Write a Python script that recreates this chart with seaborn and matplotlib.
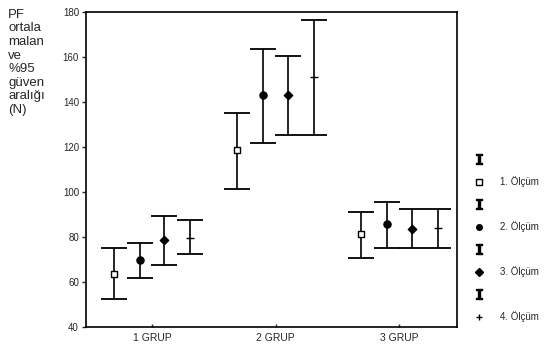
import numpy as np
import pandas as pd
import seaborn as sns
from matplotlib import pyplot as plt
from matplotlib.lines import Line2D

# values (N)
groups = ["1 GRUP", "2 GRUP", "3 GRUP"]
olcum = ["1. Ölçüm", "2. Ölçüm", "3. Ölçüm", "4. Ölçüm"]
means = [[63.5, 70.0, 78.5, 79.5],
         [118.5, 143.0, 143.0, 151.0],
         [81.5, 86.0, 83.5, 84.0]]
lower = [[52.5, 62.0, 67.5, 72.5],
         [101.5, 122.0, 125.5, 125.5],
         [70.5, 75.0, 75.0, 75.0]]
upper = [[75.0, 77.5, 89.5, 87.5],
         [135.0, 163.5, 160.5, 176.5],
         [91.0, 95.5, 92.5, 92.5]]

sns.set_style("ticks")
plt.rcParams['font.family'] = ['Liberation Sans', 'DejaVu Sans']

rows = []
offsets = [-0.31, -0.10, 0.10, 0.31]
for gi, g in enumerate(groups):
    for oi, o in enumerate(olcum):
        rows.append({"grup": g, "olcum": o, "x": gi + offsets[oi],
                     "mean": means[gi][oi], "lo": lower[gi][oi], "hi": upper[gi][oi]})
df = pd.DataFrame(rows)

fig = plt.figure(figsize=(5.46, 3.47), dpi=100)
ax = fig.add_axes([0.1575, 0.0576, 0.6795, 0.9078])

# confidence intervals
ax.errorbar(df["x"], df["mean"],
            yerr=[df["mean"] - df["lo"], df["hi"] - df["mean"]],
            fmt="none", ecolor="black", elinewidth=1.2, capsize=9.5, capthick=1.3)

markers = {"1. Ölçüm": "s", "2. Ölçüm": "o", "3. Ölçüm": "D", "4. Ölçüm": "_"}
sizes = {"1. Ölçüm": 22, "2. Ölçüm": 26, "3. Ölçüm": 18, "4. Ölçüm": 40}
for o in olcum:
    sub = df[df["olcum"] == o]
    sns.scatterplot(data=sub, x="x", y="mean", marker=markers[o], s=sizes[o],
                    color="white" if o == "1. Ölçüm" else "black",
                    edgecolor="black", linewidth=1.0, ax=ax, legend=False, zorder=3)

ax.set_xlim(-0.533, 2.465)
ax.set_ylim(40, 180)
ax.set_yticks(np.arange(40, 181, 20))
ax.set_xticks(range(len(groups)))
ax.set_xticklabels(groups, fontsize=7.5)
ax.tick_params(axis="y", labelsize=7, length=3, width=1, direction="out", pad=2)
ax.tick_params(axis="x", length=2, width=1, direction="in", pad=4)
ax.set_xlabel("")
ax.set_ylabel("")
for s in ax.spines.values():
    s.set_linewidth(1.2)
    s.set_color("black")

fig.text(0.015, 0.975,
         "PF\nortala\nmalan\nve\n%95\ngüven\naralığı\n(N)",
         fontsize=9.5, va="top", ha="left", linespacing=1.18)

# legend: an interval glyph above each marker
handles, labels = [], []
for o in olcum:
    handles.append(Line2D([], [], linestyle="none", marker="$\\mathtt{I}$",
                          color="black", markersize=7))
    labels.append("")
    mfc = "white" if o == "1. Ölçüm" else "black"
    handles.append(Line2D([], [], linestyle="none", marker=markers[o] if o != "4. Ölçüm" else "+",
                          markerfacecolor=mfc, markeredgecolor="black", markersize=4))
    labels.append(o)
fig.legend(handles, labels, loc="upper left", bbox_to_anchor=(0.86, 0.57),
           frameon=False, fontsize=7, handlelength=1.0, handletextpad=1.6,
           labelspacing=1.24, borderpad=0)

fig.savefig("out.png", dpi=100)
